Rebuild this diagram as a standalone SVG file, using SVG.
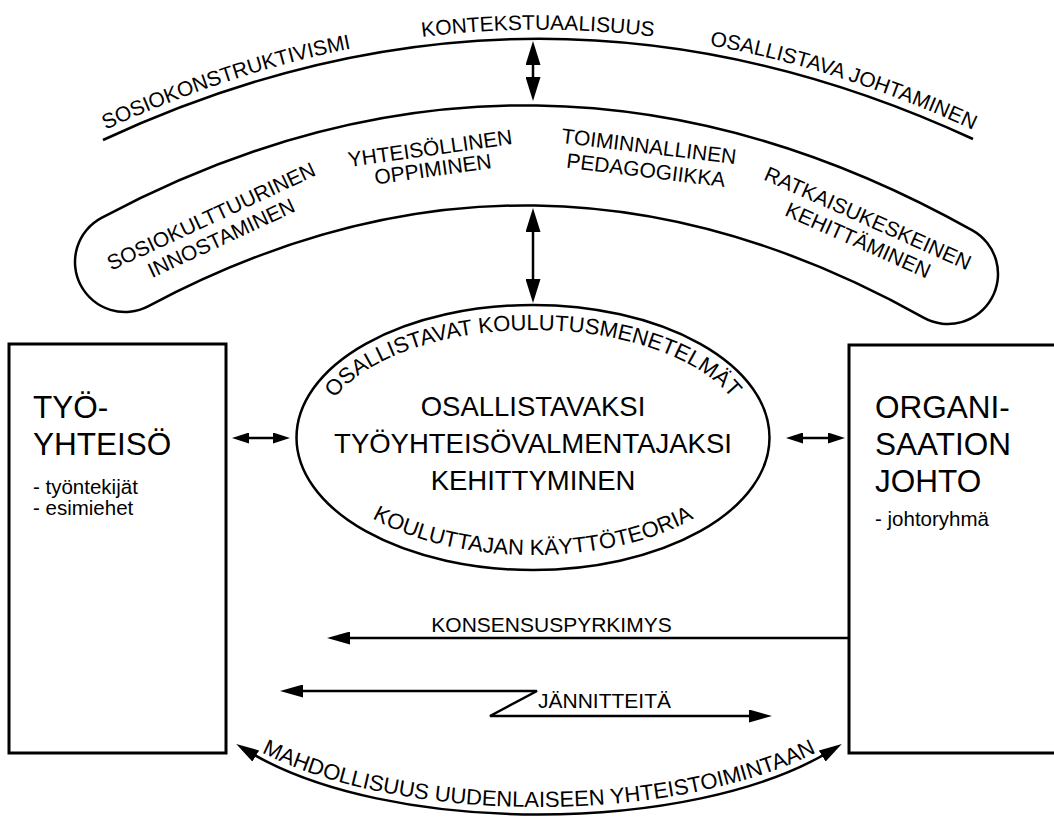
<svg xmlns="http://www.w3.org/2000/svg" width="1054" height="826" viewBox="0 0 1054 826">
<defs>
<style>
text{font-family:"Liberation Sans",Arial,Helvetica,sans-serif;fill:#000}
.s{font-size:21px}
.sa{font-size:22px}
.sm{font-size:20.5px}
.big{font-size:31.5px}
.mid{font-size:27.5px}
.ln{fill:none;stroke:#000;stroke-width:2.5}
.box{fill:#fff;stroke:#000;stroke-width:3}
</style>
<marker id="hb" markerUnits="userSpaceOnUse" viewBox="0 0 24 15" markerWidth="24" markerHeight="15" refX="12" refY="7.5" orient="auto-start-reverse"><path d="M0,0 L24,7.5 L0,15 z"/></marker>
<marker id="hm" markerUnits="userSpaceOnUse" viewBox="0 0 23 13" markerWidth="23" markerHeight="13" refX="11.5" refY="6.5" orient="auto-start-reverse"><path d="M0,0 L23,6.5 L0,13 z"/></marker>
<marker id="hs" markerUnits="userSpaceOnUse" viewBox="0 0 17 11" markerWidth="17" markerHeight="11" refX="8.5" refY="5.5" orient="auto-start-reverse"><path d="M0,0 L17,5.5 L0,11 z"/></marker>
<path id="pUp" d="M103,131 Q538,-71 973,130"/>
<path id="pElTop" d="M320,437 A213,107 0 0 1 746,437"/>
<path id="pElBot" d="M311,437 A222,118 0 0 0 755,437"/>
<path id="pBot" d="M236,738 C380,830 696,830 842,738"/>
</defs>
<rect width="1054" height="826" fill="#fff"/>

<g id="upper-arc">
<path class="ln" d="M103,140 Q538,-62 973,139"/>
<text class="s"><textPath href="#pUp" startOffset="3">SOSIOKONSTRUKTIVISMI</textPath></text>
<text class="s" text-anchor="middle"><textPath href="#pUp" startOffset="50%">KONTEKSTUAALISUUS</textPath></text>
<text class="s" text-anchor="end"><textPath href="#pUp" startOffset="100%">OSALLISTAVA JOHTAMINEN</textPath></text>
</g>

<g id="banana">
<path d="M125,262 Q536,43 948,274" fill="none" stroke="#000" stroke-width="102.5" stroke-linecap="round"/>
<path d="M125,262 Q536,43 948,274" fill="none" stroke="#fff" stroke-width="97.5" stroke-linecap="round"/>
<g transform="translate(211,216) rotate(-25)" text-anchor="middle" class="s">
<text y="7.5">SOSIOKULTTUURINEN</text>
<text y="31.5">INNOSTAMINEN</text>
</g>
<g transform="translate(430,148) rotate(-8)" text-anchor="middle" class="s">
<text y="7.5">YHTEISÖLLINEN</text>
<text y="28.5">OPPIMINEN</text>
</g>
<g transform="translate(649,146) rotate(7)" text-anchor="middle" class="s">
<text y="7.5">TOIMINNALLINEN</text>
<text y="31.5">PEDAGOGIIKKA</text>
</g>
<g transform="translate(868,218) rotate(24)" text-anchor="middle" class="s">
<text y="7.5">RATKAISUKESKEINEN</text>
<text y="31.5">KEHITTÄMINEN</text>
</g>
</g>

<g id="center-ellipse">
<ellipse cx="533" cy="437.5" rx="236.5" ry="132.5" class="ln"/>
<text class="sa" text-anchor="middle"><textPath href="#pElTop" startOffset="50%">OSALLISTAVAT KOULUTUSMENETELMÄT</textPath></text>
<text class="sa" text-anchor="middle"><textPath href="#pElBot" startOffset="50%">KOULUTTAJAN KÄYTTÖTEORIA</textPath></text>
<g class="mid" text-anchor="middle">
<text x="533" y="416">OSALLISTAVAKSI</text>
<text x="533" y="453">TYÖYHTEISÖVALMENTAJAKSI</text>
<text x="533" y="490">KEHITTYMINEN</text>
</g>
</g>

<g id="box-left">
<rect x="9" y="344" width="217" height="409" class="box"/>
<text class="big" x="33" y="418">TYÖ-</text>
<text class="big" x="33" y="455">YHTEISÖ</text>
<text class="sm" x="33" y="494">- työntekijät</text>
<text class="sm" x="33" y="515">- esimiehet</text>
</g>

<g id="box-right">
<rect x="849" y="345" width="220" height="408" class="box"/>
<text class="big" x="875" y="418">ORGANI-</text>
<text class="big" x="875" y="455">SAATION</text>
<text class="big" x="875" y="492">JOHTO</text>
<text class="sm" x="875" y="526">- johtoryhmä</text>
</g>

<g id="connectors">
<path class="ln" d="M533,53 V89" marker-start="url(#hb)" marker-end="url(#hb)"/>
<path class="ln" d="M533,220 V291" marker-start="url(#hb)" marker-end="url(#hb)"/>
<path class="ln" d="M240.5,438 H281.5" marker-start="url(#hs)" marker-end="url(#hs)"/>
<path class="ln" d="M794.5,438 H836.5" marker-start="url(#hs)" marker-end="url(#hs)"/>
<path class="ln" d="M849,638 H338.5" marker-end="url(#hm)"/>
<text class="s" x="551.5" y="632" text-anchor="middle">KONSENSUSPYRKIMYS</text>
<path class="ln" d="M291.5,691 H537 L490,716 H760.5" marker-start="url(#hm)" marker-end="url(#hm)"/>
<text class="s" x="538" y="708">JÄNNITTEITÄ</text>
<path class="ln" d="M246,750 C385,836 692,836 832,750" marker-start="url(#hm)" marker-end="url(#hm)"/>
<text class="sa" text-anchor="middle"><textPath href="#pBot" startOffset="50%">MAHDOLLISUUS UUDENLAISEEN YHTEISTOIMINTAAN</textPath></text>
</g>
</svg>
